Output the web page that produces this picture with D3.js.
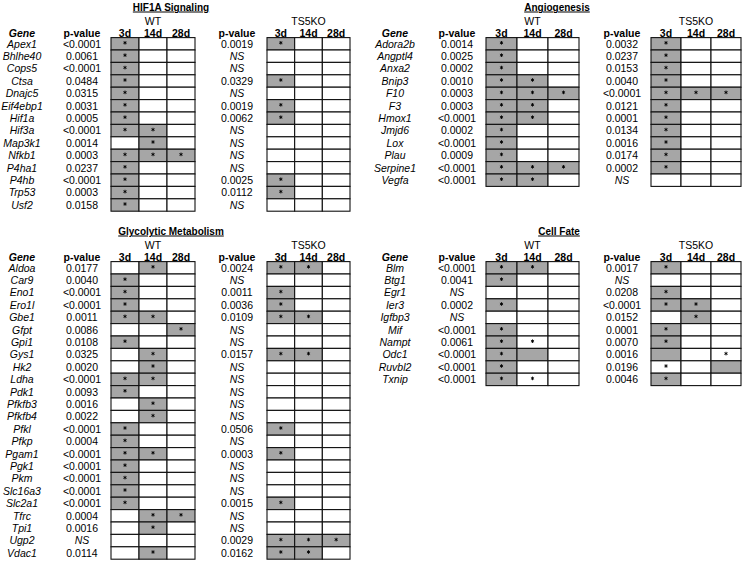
<!DOCTYPE html>
<html><head><meta charset="utf-8">
<script src="https://cdn.jsdelivr.net/npm/d3@7"></script>
<style>
html,body{margin:0;padding:0;background:#fff;}
svg text{font-family:"Liberation Sans",Arial,sans-serif;fill:#000;}
</style></head>
<body><svg id="chart" width="750" height="565"></svg>
<script>
// ---------- DATA ----------
const timepoints = ["3d", "14d", "28d"];
// cell codes: "*" gray + star, "g" gray only, "s" star only, "." empty
const hifGenes = ["Apex1","Bhlhe40","Cops5","Ctsa","Dnajc5","Eif4ebp1","Hif1a","Hif3a","Map3k1","Nfkb1","P4ha1","P4hb","Trp53","Usf2"];
const hifWTp = ["<0.0001","0.0061","<0.0001","0.0484","0.0315","0.0031","0.0005","<0.0001","0.0014","0.0003","0.0237","<0.0001","0.0003","0.0158"];
const hifWTcells = ["*..","*..","*..","*..","*..","*..","*..","**.",".*.","***","*..","*..","*..","*.."];
const hifKOp = ["0.0019","NS","NS","0.0329","NS","0.0019","0.0062","NS","NS","NS","NS","0.0025","0.0112","NS"];
const hifKOcells = ["*..","...","...","*..","...","*..","*..","...","...","...","...","*..","*..","..."];

const angGenes = ["Adora2b","Angptl4","Anxa2","Bnip3","F10","F3","Hmox1","Jmjd6","Lox","Plau","Serpine1","Vegfa"];
const angWTp = ["0.0014","0.0025","0.0002","0.0010","0.0003","0.0003","<0.0001","0.0002","<0.0001","0.0009","<0.0001","<0.0001"];
const angWTcells = ["*..","*..","*..","**.","***","**.","**.","*..","*..","*..","***","**."];
const angKOp = ["0.0032","0.0237","0.0153","0.0040","<0.0001","0.0121","0.0001","0.0134","0.0016","0.0174","0.0002","NS"];
const angKOcells = ["*..","*..","*..","*..","***","*..","*..","*..","*..","*..","*..","..."];

const glyGenes = ["Aldoa","Car9","Eno1","Ero1l","Gbe1","Gfpt","Gpi1","Gys1","Hk2","Ldha","Pdk1","Pfkfb3","Pfkfb4","Pfkl","Pfkp","Pgam1","Pgk1","Pkm","Slc16a3","Slc2a1","Tfrc","Tpi1","Ugp2","Vdac1"];
const glyWTp = ["0.0177","0.0040","<0.0001","<0.0001","0.0011","0.0086","0.0108","0.0325","0.0020","<0.0001","0.0093","0.0016","0.0022","<0.0001","0.0004","<0.0001","<0.0001","<0.0001","<0.0001","<0.0001","0.0004","0.0016","NS","0.0114"];
const glyWTcells = [".*.","*..","*..","*..","**.","..*","*..",".*.",".*.","**.","*..",".*.",".*.","*..","*..","**.","*..","*..","*..","*..",".**",".*.","...",".*."];
const glyKOp = ["0.0024","NS","0.0011","0.0036","0.0109","NS","NS","0.0157","NS","NS","NS","NS","NS","0.0506","NS","0.0003","NS","NS","NS","0.0015","NS","NS","0.0029","0.0162"];
const glyKOcells = ["**.","...","*..","*..","**.","...","...","**.","...","...","...","...","...","*..","...","*..","...","...","...","*..","...","...","***","**."];

const cfGenes = ["Blm","Btg1","Egr1","Ier3","Igfbp3","Mif","Nampt","Odc1","Ruvbl2","Txnip"];
const cfWTp = ["<0.0001","0.0041","NS","0.0002","NS","<0.0001","0.0061","<0.0001","<0.0001","<0.0001"];
const cfWTcells = ["**.","*..","...","*..","...","*..","*s.","*g.","*..","*s."];
const cfKOp = ["0.0017","NS","0.0208","<0.0001","0.0152","0.0001","0.0070","0.0016","0.0196","0.0046"];
const cfKOcells = ["*..","...","*..","**.",".*.","*..","*..","g.s","s.g","*.."];

// ---------- LAYOUT ----------
const leftCols = {gene:22, pWT:82, wt:[111,195], pKO:237, ko:[267,350]};
const rightCols = {gene:395, pWT:457, wt:[486,579], pKO:622, ko:[651,741]};
const panels = [
  {title:"HIF1A Signaling", titleX:171, y0:0, cols:leftCols, genes:hifGenes, wtP:hifWTp, wtC:hifWTcells, koP:hifKOp, koC:hifKOcells},
  {title:"Angiogenesis", titleX:557, y0:0, cols:rightCols, genes:angGenes, wtP:angWTp, wtC:angWTcells, koP:angKOp, koC:angKOcells},
  {title:"Glycolytic Metabolism", titleX:171, y0:224, cols:leftCols, genes:glyGenes, wtP:glyWTp, wtC:glyWTcells, koP:glyKOp, koC:glyKOcells},
  {title:"Cell Fate", titleX:559, y0:224, cols:rightCols, genes:cfGenes, wtP:cfWTp, wtC:cfWTcells, koP:cfKOp, koC:cfKOcells}
];
const ROW_H = 12.4, GRID_TOP = 37.6;
const FILL = "#a6a6a6";

const svg = d3.select("#chart");
const starPath = d3.symbol(d3.symbolAsterisk || d3.symbolCross, 9)();

panels.forEach(p => {
  const g = svg.append("g").attr("transform", `translate(0,${p.y0})`);
  const y = d3.scaleBand().domain(p.genes).range([GRID_TOP, GRID_TOP + ROW_H * p.genes.length]);
  const c = p.cols;

  g.append("text").attr("x", p.titleX).attr("y", 10.5).attr("text-anchor","middle")
    .attr("font-size", 10).attr("font-weight","bold").attr("text-decoration","underline").text(p.title);

  const groups = [
    {label:"WT", range:c.wt, pX:c.pWT, pv:p.wtP, cells:p.wtC},
    {label:"TS5KO", range:c.ko, pX:c.pKO, pv:p.koP, cells:p.koC}
  ];

  g.append("text").attr("x", c.gene).attr("y", 36.8).attr("text-anchor","middle")
    .attr("font-size",10.5).attr("font-weight","bold").attr("font-style","italic").text("Gene");

  g.selectAll("text.gene").data(p.genes).join("text").attr("class","gene")
    .attr("x", c.gene).attr("y", d => y(d) + ROW_H/2 + 3.8).attr("text-anchor","middle")
    .attr("font-size",10.5).attr("font-style","italic").text(d => d);

  groups.forEach(gr => {
    const x = d3.scaleBand().domain(timepoints).range(gr.range);
    g.append("text").attr("x", (gr.range[0]+gr.range[1])/2).attr("y", 24.5).attr("text-anchor","middle")
      .attr("font-size",10.5).text(gr.label);
    g.append("text").attr("x", gr.pX).attr("y", 36.8).attr("text-anchor","middle")
      .attr("font-size",10.5).attr("font-weight","bold").text("p-value");
    g.selectAll(null).data(timepoints).join("text")
      .attr("x", d => x(d) + x.bandwidth()/2).attr("y", 36.8).attr("text-anchor","middle")
      .attr("font-size",10.5).attr("font-weight","bold").text(d => d);

    g.selectAll(null).data(gr.pv).join("text")
      .attr("x", gr.pX).attr("y", (d,i) => y(p.genes[i]) + ROW_H/2 + 3.8).attr("text-anchor","middle")
      .attr("font-size",10.5).attr("font-style", d => d === "NS" ? "italic" : "normal").text(d => d);

    const cellData = [];
    gr.cells.forEach((code, i) => {
      timepoints.forEach((t, j) => cellData.push({gene:p.genes[i], t, code:code[j]}));
    });
    g.selectAll(null).data(cellData).join("rect")
      .attr("x", d => x(d.t)).attr("y", d => y(d.gene))
      .attr("width", x.bandwidth()).attr("height", y.bandwidth())
      .attr("fill", d => (d.code === "*" || d.code === "g") ? FILL : "#fff")
      .attr("stroke", "#111").attr("stroke-width", 1.1);
    g.selectAll(null).data(cellData.filter(d => d.code === "*" || d.code === "s")).join("path")
      .attr("transform", d => `translate(${x(d.t) + x.bandwidth()/2},${y(d.gene) + ROW_H/2 - 1})`)
      .attr("d", starPath).attr("fill", "none").attr("stroke", "#000").attr("stroke-width", 0.9);
  });
});
</script></body></html>
